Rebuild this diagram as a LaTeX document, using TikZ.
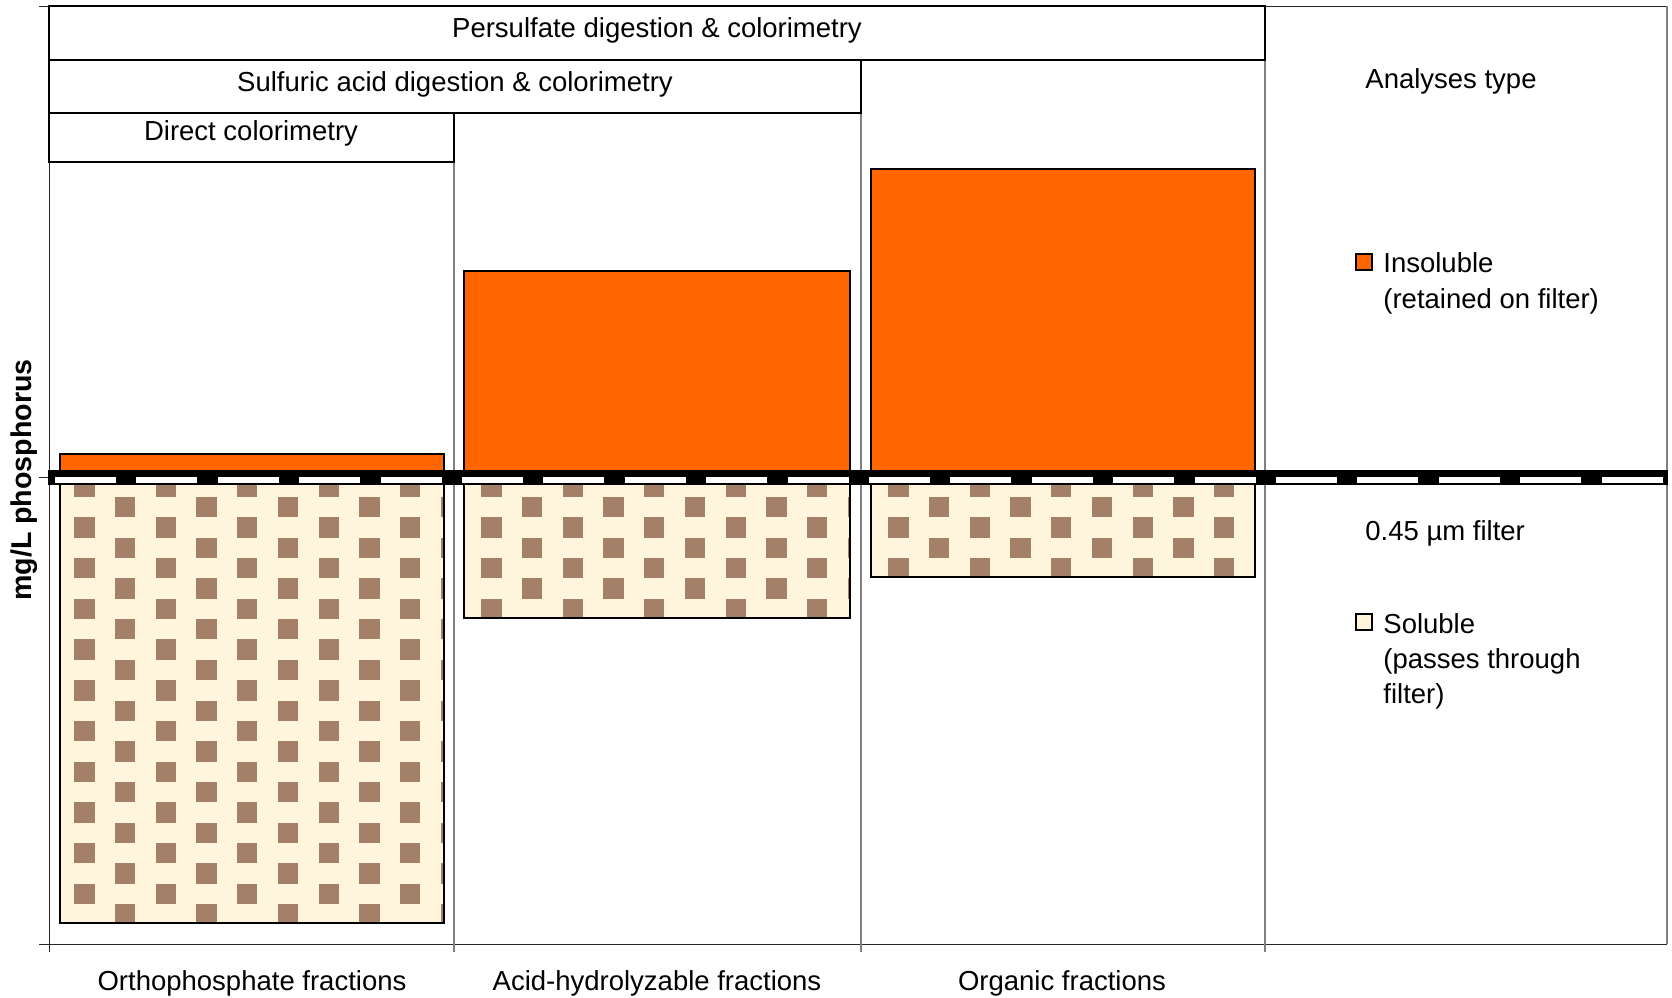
\documentclass[tikz,border=0pt]{standalone}
\usepackage{fontspec}
\setmainfont{Liberation Sans}
\usetikzlibrary{positioning,calc}
\definecolor{insolOrange}{RGB}{255,102,0}
\definecolor{solCream}{RGB}{255,245,220}
\definecolor{solBrown}{RGB}{165,128,104}
\tikzset{
  axis line/.style={draw=black!85, line width=0.5pt},
  divider/.style={draw=gray, line width=0.6pt},
  method box/.style={draw=black, line width=1pt},
  ins bar/.style={draw=black, line width=1.2pt, fill=insolOrange},
  sol bar/.style={draw=black, line width=1.1pt},
  lbl/.style={font=\fontsize{13.75}{16.5}\selectfont, inner sep=0pt},
  key/.style={rectangle, draw=black, line width=0.9pt, minimum size=8pt, inner sep=0pt}
}
\begin{document}
\begin{tikzpicture}[x=0.5pt, y=-0.5pt]
\useasboundingbox (0,0) rectangle (1672,997);

% --- Axes and column dividers ---
\draw[axis line] (49,6) -- (49,952);
\foreach \y in {6,477,944} { \draw[axis line] (39,\y) -- (49,\y); }
\draw[axis line] (49,944) -- (1667,944);
\draw[axis line] (1265,6) -- (1667,6);
\draw[divider] (454,162) -- (454,952);
\draw[divider] (861,113) -- (861,952);
\draw[divider] (1265,60) -- (1265,952);
\draw[divider] (1667,6) -- (1667,944);

% --- Analyses boxes ---
\draw[method box] (49,6) rectangle (1265,60);
\draw[method box] (49,60) rectangle (861,113);
\draw[method box] (49,113) rectangle (454,162);
\node[lbl, anchor=base] (persulfate) at (657,37) {Persulfate digestion \& colorimetry};
\node[lbl, anchor=base] (sulfuric) at (455,91) {Sulfuric acid digestion \& colorimetry};
\node[lbl, anchor=base] (direct) at (251,140) {Direct colorimetry};

% --- Insoluble bars ---
\draw[ins bar] (60,454) rectangle (444,474);
\draw[ins bar] (464,271) rectangle (850,474);
\draw[ins bar] (871,169) rectangle (1255,474);

% --- Soluble bars (checked fill) ---
\begin{scope}
  \clip (60,480) rectangle (444,923) (464,480) rectangle (850,618) (871,480) rectangle (1255,577);
  \fill[solCream] (40,470) rectangle (1270,930);
  \foreach \r in {0,...,21} {
    \pgfmathsetmacro{\rowTop}{476.65+20.35*\r}
    \pgfmathsetmacro{\rowOff}{74.3+40.7*mod(\r,2)}
    \foreach \k in {0,...,14} {
      \fill[solBrown] ({\rowOff+81.4*\k},\rowTop) rectangle +(20.35,20.35);
    }
  }
\end{scope}
\draw[sol bar] (60,480) rectangle (444,923);
\draw[sol bar] (464,480) rectangle (850,618);
\draw[sol bar] (871,480) rectangle (1255,577);

% --- Filter line ---
\fill[black] (48,470) rectangle (1668,485);
\foreach \k in {0,...,19} {
  \fill[white] ({55+81.4*\k},477) rectangle ({116+81.4*\k},483);
}

% --- Legend ---
\node[lbl, anchor=base west] (analyses) at (1365,88) {Analyses type};
\node[key, fill=insolOrange] (insKey) at (1364,262) {};
\node[lbl, anchor=base west] (insText) at (1383,272) {Insoluble};
\node[lbl, anchor=base west] (insNote) at (1383,308) {(retained on filter)};
\node[lbl, anchor=base west] (filterText) at (1365,540) {0.45 µm filter};
\node[key, fill=solCream] (solKey) at (1364,622) {};
\node[lbl, anchor=base west] (solText) at (1383,633) {Soluble};
\node[lbl, anchor=base west] (solNote) at (1383,668) {(passes through};
\node[lbl, anchor=base west] (solNoteB) at (1383,703) {filter)};

% --- Axis labels ---
\node[lbl, font=\fontsize{14.3}{17}\selectfont\bfseries, rotate=90, anchor=base] (yLabel) at (32,480) {mg/L phosphorus};
\node[lbl, anchor=base] (orthoLbl) at (252,990) {Orthophosphate fractions};
\node[lbl, anchor=base] (acidLbl) at (657,990) {Acid-hydrolyzable fractions};
\node[lbl, anchor=base] (organicLbl) at (1062,990) {Organic fractions};

\end{tikzpicture}
\end{document}
